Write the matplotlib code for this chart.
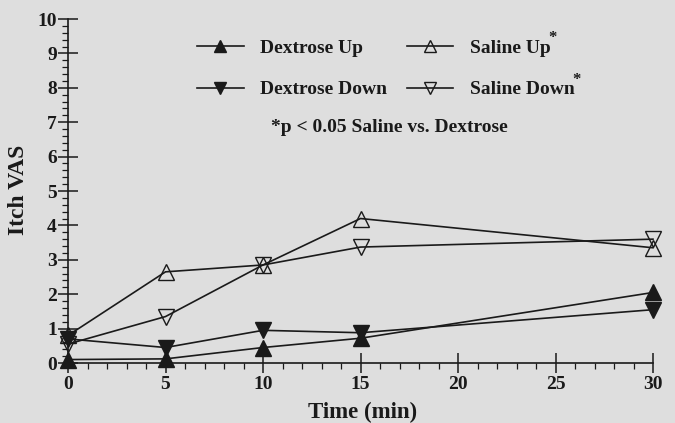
import matplotlib
matplotlib.use("Agg")
import matplotlib.pyplot as plt
from matplotlib.ticker import MultipleLocator

plt.rcParams['font.family'] = ['Liberation Serif', 'DejaVu Serif']
plt.rcParams['font.weight'] = 'bold'

time = [0, 5, 10, 15, 30]
dextrose_up = [0.10, 0.12, 0.45, 0.72, 2.05]
dextrose_down = [0.70, 0.45, 0.95, 0.88, 1.55]
saline_up = [0.80, 2.65, 2.85, 4.20, 3.35]
saline_down = [0.55, 1.35, 2.85, 3.37, 3.60]

bg = '#dedede'
ink = '#1a1a1a'

fig = plt.figure(figsize=(6.75, 4.23), dpi=100, facecolor=bg)
ax = fig.add_axes([68/675, 1-363/423, (653-68)/675, (363-19)/423], facecolor=bg)

kw = dict(color=ink, lw=1.2, ms=11, clip_on=False, zorder=3)
l1, = ax.plot(time, dextrose_up, marker='^', mfc=ink, mec=ink, **kw)
l2, = ax.plot(time, dextrose_down, marker='v', mfc=ink, mec=ink, **kw)
l3, = ax.plot(time, saline_up, marker='^', mfc='none', mec=ink, mew=1.0, **kw)
l4, = ax.plot(time, saline_down, marker='v', mfc='none', mec=ink, mew=1.0, **kw)

ax.set_xlim(0, 30)
ax.set_ylim(0, 10)
for s in ['top', 'right']:
    ax.spines[s].set_visible(False)
for s in ['left', 'bottom']:
    ax.spines[s].set_color(ink)
    ax.spines[s].set_linewidth(1.2)

ax.xaxis.set_major_locator(MultipleLocator(5))
ax.xaxis.set_minor_locator(MultipleLocator(1))
ax.yaxis.set_major_locator(MultipleLocator(1))
ax.yaxis.set_minor_locator(MultipleLocator(0.2))
ax.tick_params(axis='x', which='major', direction='inout', length=14, width=1.1, color=ink, labelsize=14, pad=2)
ax.tick_params(axis='x', which='minor', direction='out', length=4, width=0.9, color=ink)
ax.tick_params(axis='y', which='major', direction='inout', length=14, width=1.1, color=ink, labelsize=14, pad=1)
ax.tick_params(axis='y', which='minor', direction='out', length=4, width=0.9, color=ink)
for lab in ax.get_xticklabels() + ax.get_yticklabels():
    lab.set_fontweight('bold')
    lab.set_color(ink)

ax.set_xlabel('Time (min)', fontsize=16.5, fontweight='bold', color=ink)
ax.xaxis.set_label_coords(0.503, -0.113)
ax.set_ylabel('Itch VAS', fontsize=17, fontweight='bold', color=ink)
ax.yaxis.set_label_coords(-0.067, 0.503)

handles = [l1, l2, l3, l4]
labels = ['Dextrose Up', 'Dextrose Down', 'Saline Up', 'Saline Down']
leg = ax.legend(handles, labels, ncol=2, loc='upper left', bbox_to_anchor=(0.2205, 0.942),
                frameon=False, fontsize=14, handlelength=2.4, columnspacing=1.0,
                labelspacing=1.25, handletextpad=0.85, markerscale=0.85,
                borderpad=0, borderaxespad=0)
for t in leg.get_texts():
    t.set_color(ink)
for t in leg.get_texts()[2:]:
    ax.annotate('*', xy=(1, 1), xycoords=t, xytext=(-1.5, 7), textcoords='offset points',
                ha='left', va='top', fontsize=12, fontweight='bold', color=ink, zorder=10)

ax.text(0.55, 0.686, '*p < 0.05 Saline vs. Dextrose', transform=ax.transAxes,
        ha='center', va='center', fontsize=14, fontweight='bold', color=ink)

fig.savefig('out.png', dpi=100, facecolor=bg)
